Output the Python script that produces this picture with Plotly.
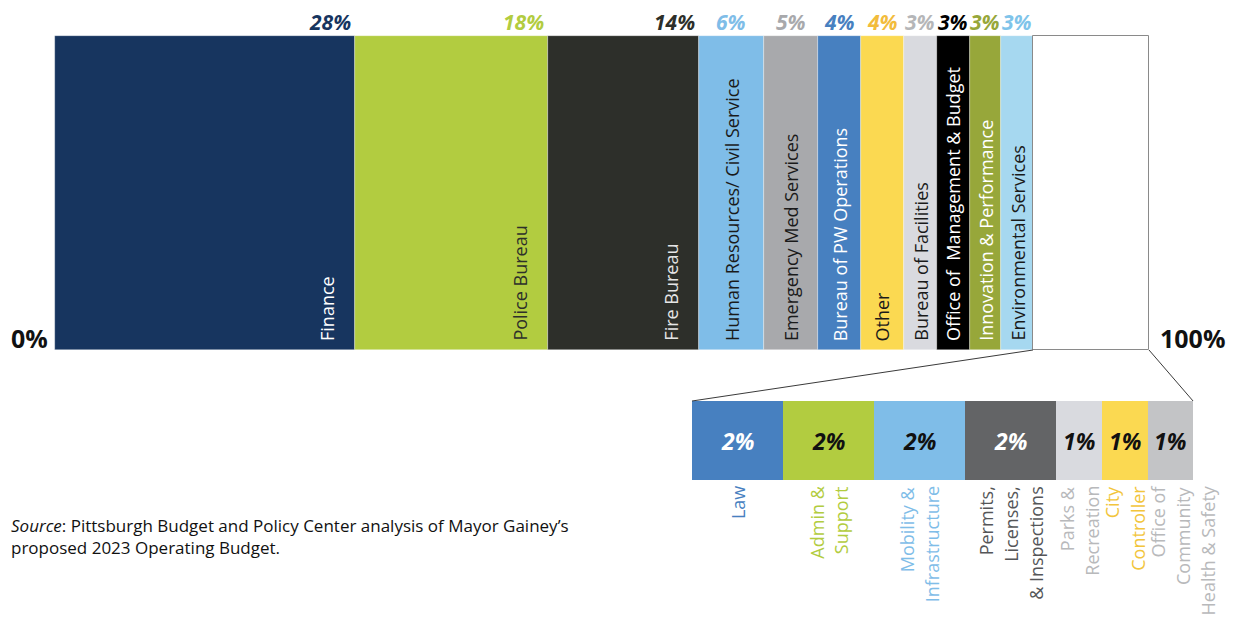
import plotly.graph_objects as go

# ---------------- data ----------------
departments = ["Finance", "Police Bureau", "Fire Bureau", "Human Resources/ Civil Service",
               "Emergency Med Services", "Bureau of PW Operations", "Other",
               "Bureau of Facilities", "Office of\u00a0 Management & Budget",
               "Innovation & Performance", "Environmental Services"]
dept_share = [27.5, 17.6, 13.8, 5.9, 5.0, 3.9, 3.9, 3.0, 3.0, 2.9, 2.9]
dept_labels = ["28%", "18%", "14%", "6%", "5%", "4%", "4%", "3%", "3%", "3%", "3%"]

small_depts = [["Law"], ["Admin &", "Support"], ["Mobility &", "Infrastructure"],
               ["Permits,", "Licenses,", "& Inspections"], ["Parks &", "Recreation"],
               ["City", "Controller"], ["Office of", "Community", "Health & Safety"]]
small_share = [2, 2, 2, 2, 1, 1, 1]
small_labels = ["2%", "2%", "2%", "2%", "1%", "1%", "1%"]

source_text = ("<i>Source</i>: Pittsburgh Budget and Policy Center analysis of Mayor Gainey\u2019s"
               "<br>proposed 2023 Operating Budget.")

# ---------------- styles ----------------
dept_colors = ["#17355f", "#b2cc40", "#2d2f2a", "#7fbde8", "#a8a9ac", "#4780c0",
               "#fbd951", "#d9dadf", "#000000", "#97a73a", "#a6d8f0"]
dept_text_colors = ["#ffffff", "#2d2f2a", "#e6e6e6", "#1a1a1a", "#1a1a1a", "#ffffff",
                    "#1a1a1a", "#1a1a1a", "#ffffff", "#ffffff", "#1a1a1a"]
dept_pct_colors = ["#17355f", "#b2cc40", "#2d2f2a", "#7fbde8", "#a8a9ac", "#4780c0",
                   "#f2bc3c", "#b5b6b8", "#000000", "#97a73a", "#7fc4ea"]
small_colors = ["#4780c0", "#b2cc40", "#7fbde8", "#636466", "#d9dadf", "#fbd951", "#c3c4c6"]
small_pct_colors = ["#ffffff", "#111111", "#111111", "#ffffff", "#111111", "#111111", "#111111"]
small_name_colors = ["#4780c0", "#b2cc40", "#7fbde8", "#555658", "#b8b9bb", "#f2c53c", "#b8b9bb"]

W, H = 1237, 617
X0_PX, PX_PER_PCT = 54.5, 10.945          # top bar: 0% at 54.5px, 1% = 10.945px
TOP_Y0, TOP_Y1 = 36, 350
BOT_Y0, BOT_Y1 = 401, 480
ZOOM_START = (692 - X0_PX) / PX_PER_PCT   # left edge of the breakdown bar (axis units)
ZOOM_K = 45.55 / PX_PER_PCT               # axis units per percent in breakdown bar
LINE_SP = 25 / PX_PER_PCT
FONT = "Open Sans"

fig = go.Figure()
annotations = []
shapes = []

# ---------------- top bar ----------------
cum = 0.0
for i, (name, v) in enumerate(zip(departments, dept_share)):
    fig.add_trace(go.Bar(orientation="h", y=[(TOP_Y0 + TOP_Y1) / 2], x=[v], base=[cum],
                         width=TOP_Y1 - TOP_Y0, marker_color=dept_colors[i],
                         marker_line_color="rgba(255,255,255,0.55)", marker_line_width=0.6,
                         hoverinfo="skip", showlegend=False))
    wide = v > 10
    if wide:
        xt, xa = cum + v - 29 / PX_PER_PCT, "center"
        xp, xpa = cum + v - 2 / PX_PER_PCT, "right"
    else:
        xt, xa = cum + v / 2, "center"
        xp, xpa = cum + v / 2, "center"
    annotations.append(dict(x=xt, y=TOP_Y1 - 7, text=name, textangle=-90, showarrow=False,
                            xanchor=xa, yanchor="bottom",
                            font=dict(family=FONT, size=18, color=dept_text_colors[i])))
    annotations.append(dict(x=xp, y=21.5, text=dept_labels[i], showarrow=False,
                            xanchor=xpa, yanchor="middle",
                            font=dict(family=FONT, size=21, color=dept_pct_colors[i],
                                      weight="bold", style="italic")))
    cum += v

rest_start = cum
fig.add_trace(go.Bar(orientation="h", y=[(TOP_Y0 + TOP_Y1) / 2], x=[100 - rest_start],
                     base=[rest_start], width=TOP_Y1 - TOP_Y0, marker_color="#ffffff",
                     marker_line_color="#8a8a8a", marker_line_width=1,
                     hoverinfo="skip", showlegend=False))

# ---------------- breakdown bar ----------------
bcum = 0.0
for i, (lines, v) in enumerate(zip(small_depts, small_share)):
    left = ZOOM_START + bcum * ZOOM_K
    wdt = v * ZOOM_K
    fig.add_trace(go.Bar(orientation="h", y=[(BOT_Y0 + BOT_Y1) / 2], x=[wdt], base=[left],
                         width=BOT_Y1 - BOT_Y0, marker_color=small_colors[i],
                         marker_line_width=0, hoverinfo="skip", showlegend=False))
    center = left + wdt / 2
    annotations.append(dict(x=center, y=(BOT_Y0 + BOT_Y1) / 2, text=small_labels[i],
                            showarrow=False, xanchor="center", yanchor="middle",
                            font=dict(family=FONT, size=23, color=small_pct_colors[i],
                                      weight="bold", style="italic")))
    n = len(lines)
    first = max(center - (n - 1) / 2 * LINE_SP, left + 10 / PX_PER_PCT)
    for j, ln in enumerate(lines):
        annotations.append(dict(x=first + j * LINE_SP, y=BOT_Y1 + 4, text=ln, textangle=-90,
                                showarrow=False, xanchor="center", yanchor="top",
                                font=dict(family=FONT, size=18, color=small_name_colors[i])))
    bcum += v
zoom_end = ZOOM_START + bcum * ZOOM_K

# connector lines
shapes.append(dict(type="line", xref="x", yref="y", x0=rest_start, y0=TOP_Y1,
                   x1=ZOOM_START, y1=BOT_Y0, line=dict(color="#3a3a3a", width=1)))
shapes.append(dict(type="line", xref="x", yref="y", x0=100, y0=TOP_Y1,
                   x1=zoom_end, y1=BOT_Y0, line=dict(color="#3a3a3a", width=1)))

# 0% / 100%
annotations.append(dict(x=0, y=TOP_Y1 - 12, text="0%", showarrow=False, xanchor="right",
                        yanchor="middle", xshift=-5,
                        font=dict(family=FONT, size=25, color="#111111", weight="bold")))
annotations.append(dict(x=100, y=TOP_Y1 - 12, text="100%", showarrow=False, xanchor="left",
                        yanchor="middle", xshift=9,
                        font=dict(family=FONT, size=25, color="#111111", weight="bold")))

# source
annotations.append(dict(xref="paper", yref="y", x=9 / W, y=536,
                        xanchor="left", yanchor="middle", align="left", showarrow=False,
                        text=source_text, font=dict(family=FONT, size=17, color="#111111")))

fig.update_layout(
    width=W, height=H, margin=dict(l=0, r=0, t=0, b=0),
    paper_bgcolor="white", plot_bgcolor="white", barmode="overlay", bargap=0,
    xaxis=dict(range=[-X0_PX / PX_PER_PCT, (W - X0_PX) / PX_PER_PCT], visible=False,
               fixedrange=True),
    yaxis=dict(range=[H, 0], visible=False, fixedrange=True),
    annotations=annotations, shapes=shapes, showlegend=False,
)

fig.write_html("out.html", config={"displayModeBar": False},
               post_script="document.body.style.margin='0';")
